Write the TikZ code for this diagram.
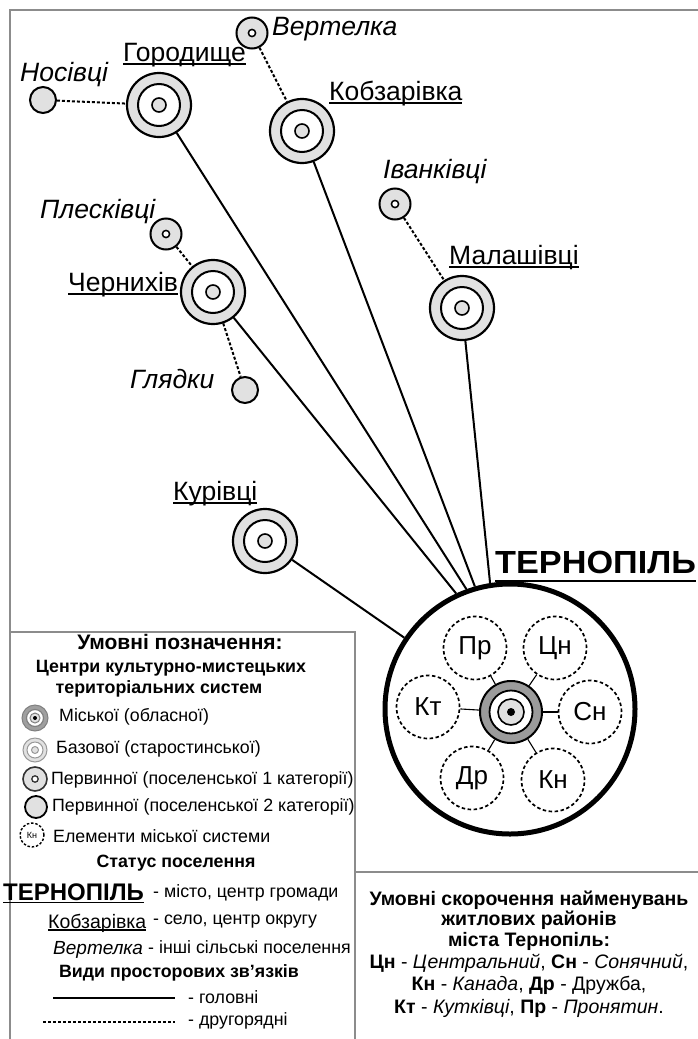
\documentclass[tikz,border=0pt]{standalone}
\usepackage{fontspec}
\setmainfont{Liberation Sans}
\definecolor{lg}{RGB}{225,225,225}
\definecolor{dg}{RGB}{155,155,155}
\definecolor{fr}{RGB}{140,140,140}
\newcommand{\myul}[2][0.14em]{\setbox0\hbox{#2}\rlap{\rule[-#1]{\wd0}{0.065em}}\box0}
\newcommand\fsA{\fontsize{26.5}{30}\selectfont}
\newcommand\fsB{\fontsize{26}{28}\selectfont}
\newcommand\fsL{\fontsize{17.8}{21}\selectfont}
\newcommand\fsR{\fontsize{19.5}{23}\selectfont}
\newcommand\fsT{\fontsize{21}{25}\selectfont}
\tikzset{
  basec/.style={circle, draw, line width=2.2pt, fill=lg, minimum size=64pt, inner sep=0pt,
    path picture={\draw[line width=2pt, fill=white] (path picture bounding box.center) circle (21pt);
                  \draw[line width=1.6pt, fill=lg] (path picture bounding box.center) circle (7pt);}},
  primc/.style={circle, draw, line width=2pt, fill=lg, minimum size=31pt, inner sep=0pt,
    path picture={\draw[line width=1.5pt, fill=white] (path picture bounding box.center) circle (3.6pt);}},
  secc/.style={circle, draw, line width=2pt, fill=lg, minimum size=26pt, inner sep=0pt},
  elem/.style={circle, draw, dash pattern=on 3.5pt off 2.5pt, line width=1.7pt, minimum size=63pt, inner sep=0pt, font=\fsB},
  cenc/.style={circle, draw, line width=2pt, fill=dg, minimum size=62pt, inner sep=0pt,
    path picture={\draw[line width=1.8pt, fill=white] (path picture bounding box.center) circle (21.5pt);
                  \draw[line width=1.6pt, fill=lg] (path picture bounding box.center) circle (13pt);
                  \fill[black] (path picture bounding box.center) circle (4pt);}},
  lab/.style={anchor=base west, inner sep=0pt, font=\fsA},
  mainl/.style={line width=2pt},
  minorl/.style={line width=2pt, dash pattern=on 3pt off 2pt},
  thinl/.style={line width=1.1pt},
  framel/.style={draw=fr, line width=1.5pt},
  leg/.style={anchor=west, inner sep=0pt, font=\fsL},
  legh/.style={inner sep=0pt, font=\fsL\bfseries},
  abh/.style={inner sep=0pt, font=\fsR\bfseries},
  abt/.style={inner sep=0pt, font=\fsR},
}
\begin{document}
\begin{tikzpicture}[x=1pt,y=-1pt]
\useasboundingbox (0,0) rectangle (698,1039);
\fill[white] (0,0) rectangle (698,1039);
% frame
\draw[framel] (10,1039) -- (10,10) -- (698,10);
\draw[framel] (10,632) -- (355,632) -- (355,1039);
\draw[framel] (355,872) -- (698,872);

% settlements
\node[primc] (Ver) at (252,33) {};
\node[basec] (Hor) at (159,105) {};
\node[secc]  (Nos) at (43,100) {};
\node[basec] (Kob) at (302,131) {};
\node[primc] (Iva) at (395,204) {};
\node[basec] (Mal) at (462,308) {};
\node[primc] (Ple) at (166,234) {};
\node[basec] (Che) at (213,292) {};
\node[secc]  (Gly) at (245,390) {};
\node[basec] (Kur) at (265,541) {};

% labels
\node[lab] (lNos) at (20,81) {\itshape Носівці};
\node[lab] (lHor) at (123,61) {\myul{Городище}};
\node[lab] (lVer) at (272,35) {\itshape Вертелка};
\node[lab] (lKob) at (329,100) {\myul{Кобзарівка}};
\node[lab] (lIva) at (383,178) {\itshape Іванківці};
\node[lab] (lMal) at (449,264) {\myul{Малашівці}};
\node[lab] (lPle) at (40,218) {\itshape Плесківці};
\node[lab] (lChe) at (68,291) {\myul{Чернихів}};
\node[lab] (lGly) at (130,388) {\itshape Глядки};
\node[lab] (lKur) at (173,500) {\myul{Курівці}};

% Ternopil
\node[circle, draw, line width=5pt, minimum size=250pt, inner sep=0pt] (T) at (510,709) {};
\node[anchor=base west, inner sep=0pt, font=\fontsize{32}{36}\selectfont\bfseries] (lT) at (495,573)
  {\scalebox{1.07}[1]{\myul[0.28em]{ТЕРНОПІЛЬ}}};
\node[cenc] (C) at (511,712) {};
\node[elem] (Pr) at (475,648) {Пр};
\node[elem] (Cn) at (555,648) {Цн};
\node[elem] (Kt) at (428,707) {Кт};
\node[elem] (Sn) at (590,712) {Сн};
\node[elem] (Dr) at (472,778) {Др};
\node[elem] (Kn) at (553,780) {Кн};
\foreach \e in {Pr,Cn,Kt,Sn,Dr,Kn} \draw[thinl] (C) -- (\e);

% connectors
\draw[minorl] (Nos) -- (Hor);
\draw[minorl] (Ver) -- (Kob);
\draw[minorl] (Iva) -- (Mal);
\draw[minorl] (Ple) -- (Che);
\draw[minorl] (Che) -- (Gly);
\draw[mainl] (Che) -- (T.115.4);
\draw[mainl] (Hor) -- (T.110.9);
\draw[mainl] (Kob) -- (T.106.9);
\draw[mainl] (Mal) -- (T.99);
\draw[mainl] (Kur) -- (T.146);

% legend
\node[inner sep=0pt, font=\fsT\bfseries] (g0) at (180,642) {Умовні позначення:};
\node[legh] (g1) at (171,668) {Центри культурно-мистецьких};
\node[legh] (g2) at (159,689) {територіальних систем};

\node[circle, draw=gray, line width=1pt, fill=gray!75, minimum size=26pt, inner sep=0pt,
  path picture={\draw[line width=1.2pt, fill=white] (path picture bounding box.center) circle (8.5pt);
                \draw[line width=1pt, fill=lg] (path picture bounding box.center) circle (5pt);
                \fill[black] (path picture bounding box.center) circle (2pt);}] (i1) at (35,718) {};
\node[leg] (t1) at (59,717) {Міської (обласної)};

\node[circle, draw=gray!80, line width=1pt, fill=lg, minimum size=24pt, inner sep=0pt,
  path picture={\draw[draw=gray!80, line width=1pt, fill=white] (path picture bounding box.center) circle (8pt);
                \draw[draw=gray!80, line width=1pt, fill=lg] (path picture bounding box.center) circle (3.5pt);}] (i2) at (35,750) {};
\node[leg] (t2) at (56,749) {Базової (старостинської)};

\node[circle, draw=black!80, line width=1.6pt, fill=lg, minimum size=24pt, inner sep=0pt,
  path picture={\draw[line width=1.3pt, fill=white] (path picture bounding box.center) circle (3.2pt);}] (i3) at (35,779) {};
\node[leg] (t3) at (51,780) {Первинної (поселенської 1 категорії)};

\node[circle, draw, line width=1.8pt, fill=lg, minimum size=22pt, inner sep=0pt] (i4) at (36,807) {};
\node[leg] (t4) at (52,807) {Первинної (поселенської 2 категорії)};

\node[circle, draw, dash pattern=on 2.5pt off 1.8pt, line width=1.4pt, minimum size=24pt, inner sep=0pt,
  font=\fontsize{9}{10}\selectfont] (i5) at (32,835) {Кн};
\node[leg] (t5) at (53,836) {Елементи міської системи};

\node[legh] (g3) at (176,863) {Статус поселення};
\node[anchor=base west, inner sep=0pt, font=\fontsize{24}{28}\selectfont\bfseries] (s1) at (3,900) {\myul{ТЕРНОПІЛЬ}};
\node[leg] (s1t) at (153,893) {- місто, центр громади};
\node[anchor=base west, inner sep=0pt, font=\fontsize{19.5}{23}\selectfont] (s2) at (48,928) {\myul{Кобзарівка}};
\node[leg] (s2t) at (153,922) {- село, центр округу};
\node[anchor=base west, inner sep=0pt, font=\fontsize{19}{24}\selectfont\itshape] (s3) at (53,954) {Вертелка};
\node[leg] (s3t) at (148,947) {- інші сільські поселення};

\node[legh] (g4) at (179,973) {Види просторових зв’язків};
\coordinate (la) at (53,998);
\coordinate (lb) at (175,998);
\coordinate (lc) at (43,1022);
\coordinate (ld) at (175,1022);
\draw[mainl] (la) -- (lb);
\draw[minorl] (lc) -- (ld);
\node[leg] (l1) at (188,997) {- головні};
\node[leg] (l2) at (188,1021) {- другорядні};

% abbreviations
\node[abh] (a1) at (529,900) {Умовні скорочення найменувань};
\node[abh] (a2) at (529,920) {житлових районів};
\node[abh] (a3) at (529,941) {міста Тернопіль:};
\node[abt] (a4) at (529,963) {\textbf{Цн} - \textit{Центральний}, \textbf{Сн} - \textit{Сонячний},};
\node[abt] (a5) at (529,985) {\textbf{Кн} - \textit{Канада}, \textbf{Др} - Дружба,};
\node[abt] (a6) at (529,1008) {\textbf{Кт} - \textit{Кутківці}, \textbf{Пр} - \textit{Пронятин}.};
\end{tikzpicture}
\end{document}
